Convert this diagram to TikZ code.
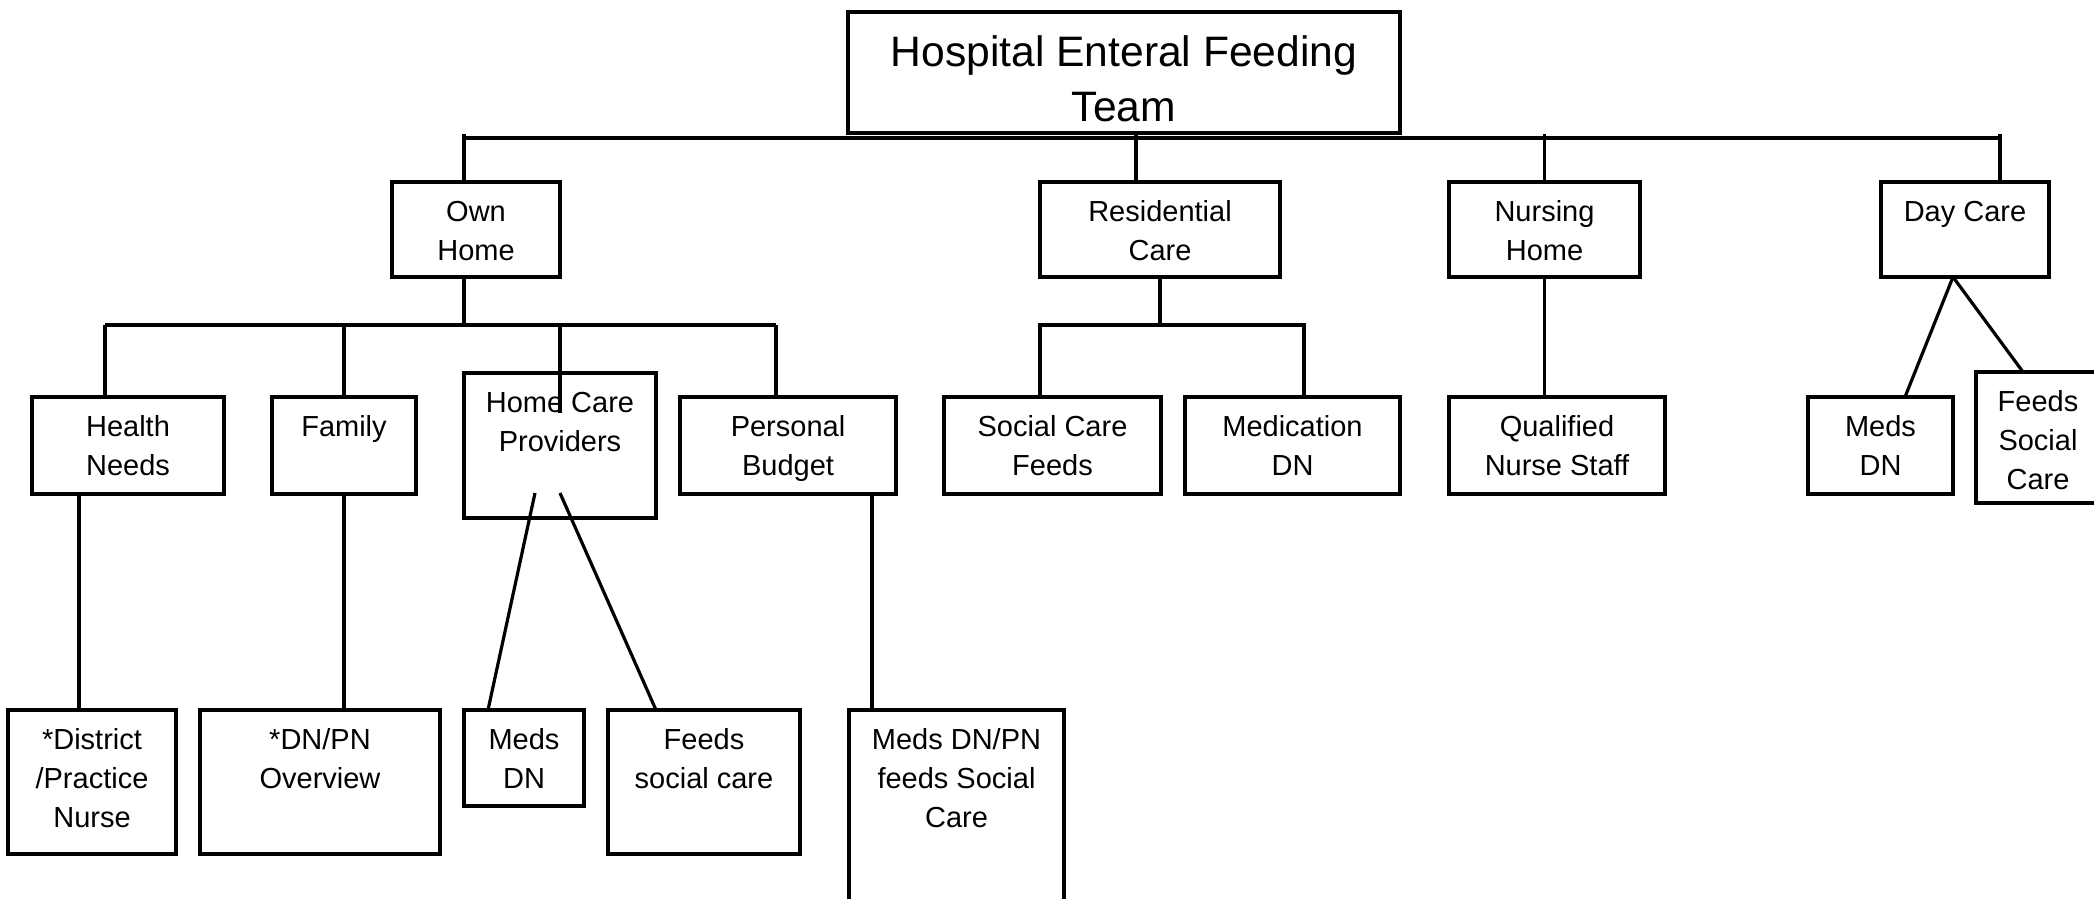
\documentclass[tikz,border=0pt]{standalone}
\usepackage{fontspec}
\setmainfont{Liberation Sans}
\tikzset{
 box/.style={draw, line width=1.6pt, inner sep=0pt, outer sep=0pt, anchor=north west},
 conn/.style={line width=1.6pt},
 txt/.style={font=\fontsize{14.5pt}{19.3pt}\selectfont, align=center, anchor=north, inner sep=0pt},
 ttl/.style={font=\fontsize{21.3pt}{27.4pt}\selectfont, align=center, anchor=north, inner sep=0pt},
}
\newcommand\bx[6]{%
 \node[box, minimum width={(#4-#2)*0.5pt}, minimum height={(#5-#3)*0.5pt}] (#1) at (#2,#3) {};
 \node[txt] (#1t) at ([yshift=-7.7pt]#1.north) {\rule{0pt}{12pt}#6};}
\begin{document}
\begin{tikzpicture}[x=0.5pt,y=-0.5pt]
\clip (0,0) rectangle (2094,899);
\fill[white] (0,0) rectangle (2094,899);
% title
\node[box, minimum width=276pt, minimum height=60.5pt] (top) at (848,12) {};
\node[ttl] (topt) at ([yshift=-10pt]top.north) {\rule{0pt}{17pt}Hospital Enteral Feeding\\Team};
% level 1
\bx{own}{392}{182}{560}{277}{Own\\Home}
\bx{res}{1040}{182}{1280}{277}{Residential\\Care}
\bx{nurs}{1449}{182}{1640}{277}{Nursing\\Home}
\bx{day}{1881}{182}{2049}{277}{Day Care}
% level 2
\bx{health}{32}{397}{224}{494}{Health\\Needs}
\bx{family}{272}{397}{416}{494}{Family}
\bx{hcp}{464}{373}{656}{518}{Home Care\\Providers}
\bx{pb}{680}{397}{896}{494}{Personal\\Budget}
\bx{scf}{944}{397}{1161}{494}{Social Care\\Feeds}
\bx{med}{1185}{397}{1400}{494}{Medication\\DN}
\bx{qns}{1449}{397}{1665}{494}{Qualified\\Nurse Staff}
\bx{dmeds}{1808}{397}{1953}{494}{Meds\\DN}
\bx{dfeeds}{1976}{372}{2100}{503}{Feeds\\Social\\Care}
% level 3
\bx{dist}{8}{710}{176}{854}{*District\\/Practice\\Nurse}
\bx{dnpn}{200}{710}{440}{854}{*DN/PN\\Overview}
\bx{hmeds}{464}{710}{584}{806}{Meds\\DN}
\bx{hfeeds}{608}{710}{800}{854}{Feeds\\social care}
\bx{mdp}{849}{710}{1064}{930}{Meds DN/PN\\feeds Social\\Care}
% top bus
\coordinate (b1) at (464,138);
\coordinate (b2) at (2000,138);
\coordinate (k1) at (464,134);
\coordinate (k2) at (1136,133);
\coordinate (k4) at (2000,134);
\draw[conn] (b1) -- (b2);
\draw[conn] (k1) -- (own.north -| k1);
\draw[conn] (k2) -- (res.north -| k2);
\draw[conn] (nurs.north |- k1) -- (nurs.north);
\draw[conn] (k4) -- (day.north -| k4);
% own home bus
\coordinate (ob) at (464,325);
\coordinate (obL) at (105,325);
\coordinate (obR) at (776,325);
\coordinate (hcpin) at (560,413);
\draw[conn] (own.south -| ob) -- (ob);
\draw[conn] (obL) -- (obR);
\draw[conn] (obL) -- (health.north -| obL);
\draw[conn] (family.north |- ob) -- (family.north);
\draw[conn] (hcp.north |- ob) -- (hcpin);
\draw[conn] (obR) -- (pb.north -| obR);
% own home level 3
\coordinate (hx) at (79,0);
\coordinate (px) at (872,0);
\coordinate (h1) at (535,493);
\coordinate (h2) at (560,493);
\draw[conn] (health.south -| hx) -- (dist.north -| hx);
\draw[conn] (family.south) -- (dnpn.north -| family.south);
\draw[conn] (h1) -- ([xshift=12pt]hmeds.north west);
\draw[conn] (h2) -- ([xshift=24pt]hfeeds.north west);
\draw[conn] (pb.south -| px) -- (mdp.north -| px);
% residential
\coordinate (rb) at (1160,325);
\coordinate (rbL) at (1040,325);
\coordinate (rbR) at (1304,325);
\draw[conn] (res.south) -- (rb);
\draw[conn] (scf.north -| rbL) -- (rbL) -- (rbR) -- (med.north -| rbR);
% nursing
\draw[conn] (nurs.south) -- (qns.north -| nurs.south);
% day care
\coordinate (dd) at (1953,277);
\draw[conn] (dd) -- ([xshift=48.5pt]dmeds.north west);
\draw[conn] (dd) -- ([xshift=23.5pt]dfeeds.north west);
\end{tikzpicture}
\end{document}
